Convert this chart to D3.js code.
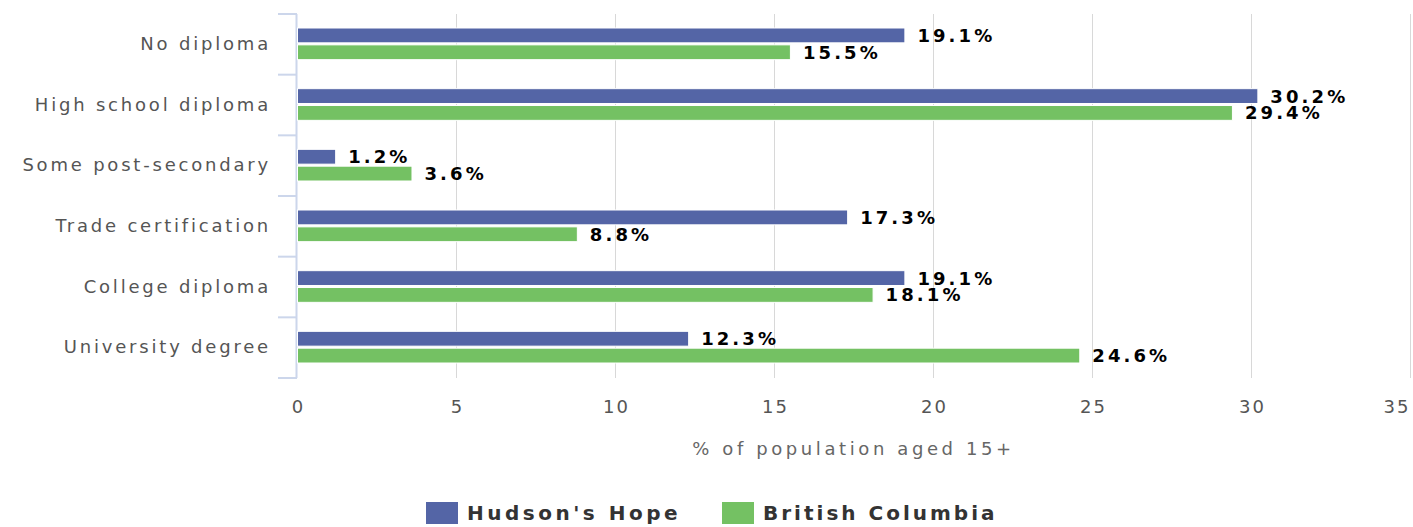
<!DOCTYPE html>
<html>
<head>
<meta charset="utf-8">
<script src="https://cdn.jsdelivr.net/npm/d3@7"></script>
<style>
  body { margin: 0; background: #fff; }
  svg { font-family: "DejaVu Sans", Verdana, sans-serif; }
</style>
</head>
<body>
<script>
var categories = ["No diploma", "High school diploma", "Some post-secondary", "Trade certification", "College diploma", "University degree"];
var hudsonsHope = [19.1, 30.2, 1.2, 17.3, 19.1, 12.3];
var britishColumbia = [15.5, 29.4, 3.6, 8.8, 18.1, 24.6];
var seriesNames = ["Hudson's Hope", "British Columbia"];
var seriesColors = ["#5465a6", "#74c163"];
var xTicks = [0, 5, 10, 15, 20, 25, 30, 35];
var axisTitle = "% of population aged 15+";

var WIDTH = 1413, HEIGHT = 527;
var MARGIN = {top: 14, left: 297, right: 3, bottom: 149};
var INNER_WIDTH = WIDTH - MARGIN.left - MARGIN.right;
var INNER_HEIGHT = HEIGHT - MARGIN.top - MARGIN.bottom;

var svg = d3.select("body").append("svg")
  .attr("width", WIDTH)
  .attr("height", HEIGHT);

var xScale = d3.scaleLinear().domain([0, 35]).range([0, INNER_WIDTH]);
var yScale = d3.scaleBand().domain(categories).range([0, INNER_HEIGHT]);
var inner = d3.scaleBand().domain([0, 1]).range([14, yScale.bandwidth() - 15]).paddingInner(0.12);

var g = svg.append("g").attr("transform", "translate(" + MARGIN.left + "," + MARGIN.top + ")");

// grid
g.append("g").selectAll("line").data(xTicks.slice(1))
  .enter().append("line")
  .attr("x1", function(d){ return xScale(d) + 0.5; })
  .attr("x2", function(d){ return xScale(d) + 0.5; })
  .attr("y1", 0).attr("y2", INNER_HEIGHT)
  .attr("stroke", "#d8d8d8").attr("stroke-width", 1);

// x axis labels
var xAxis = d3.axisBottom(xScale).tickValues(xTicks).tickSize(0).tickPadding(22);
var xg = g.append("g").attr("transform", "translate(0," + INNER_HEIGHT + ")").call(xAxis);
xg.attr("font-family", null);
xg.select(".domain").remove();
xg.selectAll("text").attr("fill", "#555").style("font-size", "18px").style("letter-spacing", "2px")
  .attr("dx", "1px");
// last label is pulled inside the chart edge
xg.selectAll(".tick").filter(function(d){ return d === xTicks[xTicks.length - 1]; })
  .select("text").attr("text-anchor", "end").attr("dx", "0px");

// y axis
var yAxis = d3.axisLeft(yScale).tickSize(0).tickPadding(26);
var yg = g.append("g").call(yAxis);
yg.attr("font-family", null);
yg.select(".domain").remove();
yg.selectAll("text").attr("fill", "#555").style("font-size", "18px").style("letter-spacing", "2.8px");

// y axis line and category ticks
g.append("line").attr("x1", -0.5).attr("x2", -0.5).attr("y1", 0).attr("y2", INNER_HEIGHT)
  .attr("stroke", "#ccd6eb").attr("stroke-width", 2);
var boundaries = categories.map(function(c){ return yScale(c); }).concat([INNER_HEIGHT]);
g.append("g").selectAll("line").data(boundaries).enter().append("line")
  .attr("x1", -19).attr("x2", 0)
  .attr("y1", function(d){ return d; }).attr("y2", function(d){ return d; })
  .attr("stroke", "#ccd6eb").attr("stroke-width", 2);

// bars
var series = [hudsonsHope, britishColumbia];
series.forEach(function(values, si){
  var sg = g.append("g");
  sg.selectAll("rect").data(values).enter().append("rect")
    .attr("x", 0.5)
    .attr("y", function(d, i){ return yScale(categories[i]) + inner(si); })
    .attr("width", function(d){ return xScale(d); })
    .attr("height", inner.bandwidth())
    .attr("fill", seriesColors[si])
    .attr("stroke", "#fff").attr("stroke-width", 1);
  sg.selectAll("text").data(values).enter().append("text")
    .attr("x", function(d){ return xScale(d) + 13; })
    .attr("y", function(d, i){ return yScale(categories[i]) + inner(si) + inner.bandwidth() / 2; })
    .attr("dy", "0.36em")
    .attr("fill", "#000")
    .style("font-size", "18px").style("font-weight", "bold").style("letter-spacing", "3.1px")
    .text(function(d){ return d.toFixed(1) + "%"; });
});

// axis title
svg.append("text")
  .attr("x", MARGIN.left + INNER_WIDTH / 2)
  .attr("y", 455)
  .attr("text-anchor", "middle")
  .attr("fill", "#666")
  .style("font-size", "18px").style("letter-spacing", "3.6px")
  .text(axisTitle);

// legend
var legend = svg.append("g").attr("transform", "translate(426,502)");
var legendX = [0, 296];
seriesNames.forEach(function(name, i){
  var lg = legend.append("g").attr("transform", "translate(" + legendX[i] + ",0)");
  lg.append("rect").attr("width", 32).attr("height", 22).attr("fill", seriesColors[i]);
  lg.append("text").attr("x", 41).attr("y", 11).attr("dy", "0.36em")
    .attr("fill", "#333")
    .style("font-size", "20px").style("font-weight", "bold").style("letter-spacing", i === 0 ? "3.5px" : "3px")
    .text(name);
});
</script>
</body>
</html>
